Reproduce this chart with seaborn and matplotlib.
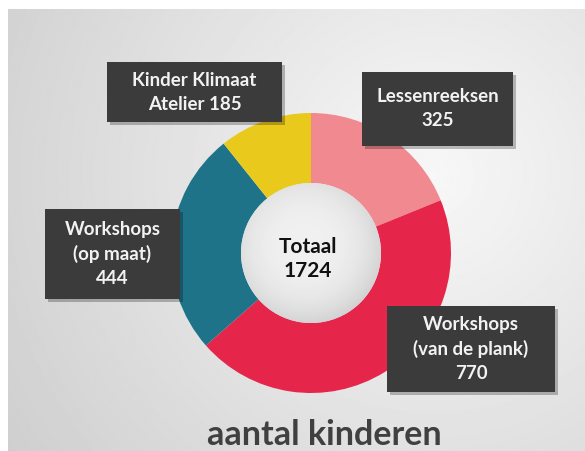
import numpy as np
import matplotlib.pyplot as plt
from matplotlib.patches import Rectangle, Circle
import seaborn as sns

# data
categories = ["Lessenreeksen", "Workshops\n(van de plank)", "Workshops\n(op maat)", "Kinder Klimaat\nAtelier"]
counts = [325, 770, 444, 185]
value_sep = ["\n", "\n", "\n", " "]
colors = ["#F08A90", "#E5264A", "#1E7389", "#E9C91B"]
total_label = "Totaal"
title = "aantal kinderen"

sns.set_theme(style="white")
plt.rcParams['font.family'] = ['Lato', 'DejaVu Sans']

W, H = 585, 452
fig = plt.figure(figsize=(W / 100, H / 100), dpi=100)
ax = fig.add_axes([0, 0, 1, 1])

# grey background with soft light spot
yy, xx = np.mgrid[0:H, 0:W]
d = np.hypot(xx - 430, yy - 170)
bg = np.clip(0.97 - 0.14 * d / 450, 0, 1)
ax.imshow(bg, cmap="gray", vmin=0, vmax=1, extent=(8, W, 0, H - 10),
          origin="upper", aspect="auto", zorder=0, interpolation="bilinear")

# donut
cx, cy, R = 311, H - 254, 140
pal = sns.color_palette(colors)
ax.pie(counts, colors=pal, startangle=90, counterclock=False,
       center=(cx, cy), radius=R, wedgeprops=dict(width=R / 2, linewidth=0))

# inner hole with soft shading
hy, hx = np.mgrid[-70:70, -70:70]
hd = np.hypot(hx + 6, hy + 8) / 75
hole = np.clip(0.94 - 0.10 * hd ** 3, 0, 1)
clip = Circle((cx, cy), R / 2, transform=ax.transData)
im = ax.imshow(hole, cmap="gray", vmin=0, vmax=1,
               extent=(cx - 70, cx + 70, cy - 70, cy + 70),
               origin="upper", aspect="auto", zorder=3, interpolation="bilinear")
im.set_clip_path(clip)

ax.text(cx - 3, cy - 5, f"{total_label}\n{sum(counts)}", ha="center", va="center",
        fontsize=15, fontweight="bold", color="#111111", linespacing=1.25, zorder=5)

# label boxes (x0, y0, x1, y1 in pixels from top-left)
boxes = [(362, 73, 513, 147), (387, 307, 555, 393), (45, 210, 180, 300), (107, 63, 282, 123)]
for cat, val, sep, (x0, y0, x1, y1) in zip(categories, counts, value_sep, boxes):
    ax.add_patch(Rectangle((x0 + 3, H - y1 - 3), x1 - x0, y1 - y0,
                           fc="#000000", alpha=0.25, lw=0, zorder=6))
    ax.add_patch(Rectangle((x0, H - y1), x1 - x0, y1 - y0,
                           fc="#3B3B3B", lw=0, zorder=7))
    ax.text((x0 + x1) / 2, H - (y0 + y1) / 2 + 1, f"{cat}{sep}{val}",
            ha="center", va="center", fontsize=13.5, fontweight="bold",
            color="#F2F2F2", linespacing=1.5, zorder=8)

ax.text(324, H - 445, title, ha="center", va="baseline", fontsize=24.5,
        fontweight="bold", color="#404040", zorder=8)

ax.set_xlim(0, W)
ax.set_ylim(0, H)
ax.set_aspect("auto")
ax.axis("off")

fig.savefig("out.png", dpi=100, facecolor="white")
